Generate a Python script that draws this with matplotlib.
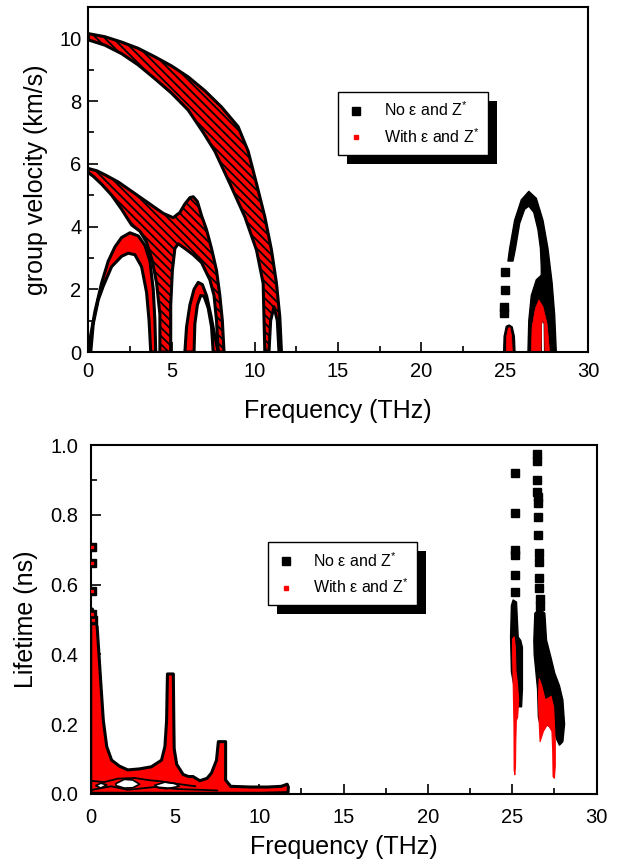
import matplotlib
matplotlib.use('Agg')
import matplotlib.pyplot as plt
from matplotlib.lines import Line2D
from matplotlib.patches import Rectangle
from matplotlib.ticker import MultipleLocator

plt.rcParams['font.family'] = ['Liberation Sans', 'DejaVu Sans']
plt.rcParams['mathtext.fontset'] = 'custom'
plt.rcParams['mathtext.rm'] = 'Liberation Sans'
plt.rcParams['hatch.linewidth'] = 1.3

# ---- group velocity (km/s) vs frequency (THz), outlines of the point clouds ----
# LA band
la_outer_f = [0, 1, 2, 3, 4, 5, 6, 7, 8, 9, 9.6, 10.1, 10.6, 11.0, 11.3, 11.5, 11.6]
la_outer_v = [10.15, 10.05, 9.88, 9.68, 9.41, 9.12, 8.77, 8.33, 7.81, 7.18, 6.40, 5.37, 4.31, 3.25, 2.19, 1.12, 0]
la_gap_f = [11.45, 11.35, 11.15, 10.95, 10.85]
la_gap_v = [0, 1.0, 1.44, 1.0, 0]
la_inner_f = [0, 1, 2, 3, 4, 5, 6, 6.9, 7.6, 8.5, 9.4, 10.1, 10.5, 10.6]
la_inner_v = [9.95, 9.78, 9.51, 9.15, 8.71, 8.25, 7.71, 7.0, 6.4, 5.37, 4.31, 3.25, 2.19, 0]

# TA2 band with the bump near 6 THz
tb_top_f = [0, 0.5, 1.0, 1.8, 2.8, 3.8, 4.5, 5.1, 5.5, 5.8, 6.1, 6.3, 6.55, 6.8, 7.1, 7.4, 7.7, 7.9, 8.05, 8.15]
tb_top_v = [5.85, 5.78, 5.65, 5.42, 5.05, 4.68, 4.42, 4.28, 4.45, 4.72, 4.92, 4.95, 4.8, 4.35, 3.9, 3.3, 2.6, 1.8, 1.0, 0]
tb_low_f = [7.8, 7.7, 7.55, 7.3, 6.8, 6.3, 5.8, 5.4, 5.2, 5.05, 4.95, 4.95, 4.3, 4.3, 4.1, 3.85, 3.5, 3.1, 2.6, 2.0, 1.4, 0.8, 0.3, 0]
tb_low_v = [0, 1.0, 1.8, 2.3, 2.85, 3.1, 3.3, 3.45, 3.3, 2.6, 1.5, 0, 0, 1.2, 2.2, 2.9, 3.5, 3.85, 4.05, 4.55, 5.0, 5.35, 5.6, 5.72]

# TA1 arch
ta_outer_f = [0, 0.1, 0.4, 0.8, 1.2, 1.6, 2.0, 2.5, 3.0, 3.4, 3.7, 3.9, 4.0, 4.05]
ta_outer_v = [0, 0.4, 1.3, 2.2, 2.9, 3.35, 3.65, 3.8, 3.7, 3.4, 2.9, 2.0, 1.0, 0]
ta_inner_f = [0.15, 0.3, 0.6, 0.9, 1.4, 2.0, 2.4, 2.8, 3.2, 3.5, 3.65, 3.75]
ta_inner_v = [0, 0.9, 1.66, 2.1, 2.72, 3.05, 3.15, 3.1, 2.72, 1.9, 1.0, 0]

# small arch 6-8 THz
d_outer_f = [5.8, 5.9, 6.1, 6.35, 6.6, 6.85, 7.1, 7.35, 7.6, 7.8]
d_outer_v = [0, 0.8, 1.5, 2.0, 2.22, 2.15, 1.8, 1.2, 0.5, 0]
d_inner_f = [6.35, 6.4, 6.55, 6.75, 6.95, 7.2, 7.4, 7.5]
d_inner_v = [0, 0.9, 1.5, 1.8, 1.78, 1.4, 0.8, 0]

# optical branches, no eps/Z*
op_f = [25.2, 25.3, 25.6, 26.0, 26.45, 26.9, 27.3, 27.6, 27.85, 28.0, 28.1,
        27.4, 27.38, 27.3, 27.2, 27.2, 26.4, 26.45, 26.6, 26.9, 27.2,
        27.2, 27.15, 27.0, 26.75, 26.45, 26.2, 25.9, 25.65, 25.5]
op_v = [2.9, 3.3, 4.2, 4.85, 5.12, 4.9, 4.2, 3.3, 2.2, 1.2, 0,
        0, 0.9, 1.02, 0.9, 0, 0, 1.0, 1.8, 2.3, 2.45,
        2.7, 3.3, 3.9, 4.45, 4.65, 4.55, 4.1, 3.3, 2.9]
op_leg_f = [25.05, 25.0, 24.98, 24.97]
op_leg_v = [2.55, 1.97, 1.45, 1.25]
op_small_f = [24.94, 24.97, 25.1, 25.27, 25.45, 25.58, 25.62]
op_small_v = [0, 0.5, 0.82, 0.86, 0.8, 0.5, 0]
# optical branches, with eps/Z*
opr_small_f = [25.1, 25.12, 25.22, 25.32, 25.42, 25.46]
opr_small_v = [0, 0.5, 0.76, 0.78, 0.5, 0]
opr_f = [26.6, 26.65, 26.85, 27.06, 27.3, 27.55, 27.7, 27.42, 27.38, 27.3, 27.22, 27.18]
opr_v = [0, 0.8, 1.4, 1.66, 1.45, 0.9, 0, 0, 0.9, 1.02, 0.9, 0]

# ---- lifetime (ns) vs frequency (THz) ----
lt_f = [0.0, 0.1, 0.25, 0.38, 0.49, 0.61, 0.75, 0.95, 1.24, 1.7, 2.2, 2.9, 3.6, 4.2, 4.4, 4.5, 4.55,
        4.9, 4.93, 4.95, 5.1, 5.48, 5.8, 6.07, 6.47, 6.9, 7.16, 7.46, 7.57, 8.0, 8.0, 8.3, 9.5,
        10.5, 11.3, 11.65, 11.72, 11.7, 10, 8, 5, 2, 0.05, 0.0]
lt_t = [0.52, 0.53, 0.5, 0.48, 0.40, 0.31, 0.21, 0.136, 0.097, 0.08, 0.069, 0.072, 0.078, 0.097, 0.136, 0.21, 0.344,
        0.344, 0.2, 0.13, 0.085, 0.056, 0.05, 0.05, 0.038, 0.045, 0.06, 0.097, 0.15, 0.15, 0.04, 0.022, 0.02,
        0.02, 0.022, 0.028, 0.02, 0.004, 0.002, 0.002, 0.002, 0.002, 0.002, 0.01]
hole1_f = [1.5, 2.0, 2.5, 2.9, 2.5, 2.0, 1.5]
hole1_t = [0.03, 0.042, 0.04, 0.028, 0.018, 0.017, 0.024]
hole2_f = [3.8, 4.4, 5.0, 5.25, 4.5, 4.0]
hole2_t = [0.025, 0.034, 0.03, 0.022, 0.015, 0.018]
hole3_f = [0.3, 0.6, 0.95, 0.6]
hole3_t = [0.024, 0.031, 0.026, 0.017]
mesh1_f = [0.0, 0.8, 1.6, 2.6, 3.4, 4.2, 5.3, 6.2]
mesh1_t = [0.038, 0.034, 0.044, 0.046, 0.04, 0.036, 0.028, 0.022]
mesh2_f = [0.1, 1.2, 2.2, 3.0, 3.8, 5.2, 6.5, 7.5]
mesh2_t = [0.012, 0.022, 0.012, 0.016, 0.02, 0.014, 0.012, 0.01]
lt_pts_f = [0.08, 0.08, 0.08, 0.1, 0.12]
lt_pts_t = [0.709, 0.663, 0.583, 0.515, 0.50]

lo1_f = [24.95, 25.05, 25.25, 25.3, 25.35, 25.5, 25.6, 25.6, 25.55, 25.35, 25.25, 25.1, 24.95, 24.9]
lo1_t = [0.54, 0.556, 0.55, 0.5, 0.45, 0.44, 0.42, 0.3, 0.25, 0.25, 0.3, 0.31, 0.35, 0.45]
lo2_f = [26.34, 26.6, 26.93, 27.03, 27.3, 27.52, 27.8, 28.0, 28.1, 28.0, 27.8, 27.6,
         27.3, 27.0, 26.7, 26.55, 26.5, 26.3, 26.28]
lo2_t = [0.518, 0.53, 0.518, 0.441, 0.39, 0.346, 0.31, 0.269, 0.2, 0.15, 0.14, 0.16,
         0.19, 0.2, 0.19, 0.22, 0.3, 0.4, 0.441]
lo1_pts_f = [25.15, 25.15, 25.15, 25.15, 25.15, 25.15]
lo1_pts_t = [0.919, 0.804, 0.699, 0.685, 0.627, 0.58]
lo2_pts_f = [26.45, 26.45, 26.47, 26.49, 26.5, 26.5, 26.52, 26.54, 26.56, 26.57, 26.58, 26.6, 26.62, 26.63]
lo2_pts_t = [0.975, 0.955, 0.9, 0.865, 0.85, 0.833, 0.795, 0.742, 0.69, 0.665, 0.62, 0.59, 0.56, 0.54]
lr1_f = [25.02, 25.12, 25.18, 25.22, 25.3, 25.38, 25.32, 25.24, 25.21, 25.19, 25.15, 25.11, 25.1, 25.06, 25.02]
lr1_t = [0.445, 0.45, 0.42, 0.35, 0.32, 0.27, 0.22, 0.21, 0.15, 0.08, 0.055, 0.07, 0.2, 0.3, 0.4]
lr2_f = [26.6, 26.75, 26.95, 27.15, 27.3, 27.45, 27.5, 27.55, 27.55, 27.5, 27.42, 27.4, 27.35, 27.1, 26.85, 26.65, 26.6, 26.55]
lr2_t = [0.33, 0.31, 0.27, 0.275, 0.28, 0.25, 0.2, 0.15, 0.08, 0.045, 0.05, 0.12, 0.18, 0.2, 0.18, 0.15, 0.2, 0.28]

labels = ['No \u03b5 and Z$^{*}$', 'With \u03b5 and Z$^{*}$']


def cloud(ax, f, v, face='red', hatch=None, lw=2.2, edge='black'):
    ax.fill(f, v, facecolor=face, edgecolor=edge, linewidth=lw, hatch=hatch,
            joinstyle='round', zorder=2)


def style(ax, ymax, ymaj, ymin, xpad, ypad):
    ax.set_xlim(0, 30)
    ax.set_ylim(0, ymax)
    ax.xaxis.set_major_locator(MultipleLocator(5))
    ax.xaxis.set_minor_locator(MultipleLocator(2.5))
    ax.yaxis.set_major_locator(MultipleLocator(ymaj))
    ax.yaxis.set_minor_locator(MultipleLocator(ymin))
    ax.tick_params(which='both', direction='in', top=False, right=False, width=1.2)
    ax.tick_params(which='major', length=7, labelsize=14.5)
    ax.tick_params(which='minor', length=4.5)
    ax.tick_params(axis='x', pad=xpad)
    ax.tick_params(axis='y', pad=ypad)
    for s in ax.spines.values():
        s.set_linewidth(1.5)


def legend_with_shadow(fig, ax, anchor):
    handles = [Line2D([], [], ls='none', marker='s', color='black', ms=5.5),
               Line2D([], [], ls='none', marker='s', color='red', ms=2.2)]
    leg = ax.legend(handles, labels, loc='upper left', bbox_to_anchor=anchor, borderaxespad=0,
                    fancybox=False, edgecolor='black', framealpha=1, fontsize=11.5,
                    handlelength=1.2, handletextpad=1.1, borderpad=0.55, labelspacing=0.5)
    leg.get_frame().set_linewidth(1.0)
    fig.canvas.draw()
    bb = leg.get_frame().get_window_extent()
    inv = fig.transFigure.inverted()
    (x0, y0), (x1, y1) = inv.transform([(bb.x0 + 9, bb.y0 - 9), (bb.x1 + 9, bb.y1 - 9)])
    ax.add_artist(Rectangle((x0, y0), x1 - x0, y1 - y0, transform=fig.transFigure,
                            facecolor='black', edgecolor='none', zorder=4.5))


fig = plt.figure(figsize=(6.23, 8.67), dpi=100)

# top panel
ax1 = fig.add_axes([0.1417, 0.594, 0.802, 0.398])
cloud(ax1, la_outer_f + la_gap_f + la_inner_f[::-1], la_outer_v + la_gap_v + la_inner_v[::-1], hatch='\\' * 4)
cloud(ax1, tb_top_f + tb_low_f, tb_top_v + tb_low_v, hatch='\\' * 4)
cloud(ax1, ta_outer_f + ta_inner_f[::-1], ta_outer_v + ta_inner_v[::-1])
cloud(ax1, d_outer_f + d_inner_f[::-1], d_outer_v + d_inner_v[::-1])
cloud(ax1, op_f, op_v, face='black', lw=1)
cloud(ax1, op_small_f, op_small_v, face='black', lw=1)
ax1.plot(op_leg_f, op_leg_v, 's', color='black', ms=5.5, zorder=2)
cloud(ax1, opr_f, opr_v, face='red', lw=0.5, edge='red')
cloud(ax1, opr_small_f, opr_small_v, face='red', lw=0.5, edge='red')
style(ax1, 11, 2, 1, 7, 5)
ax1.set_xlabel('Frequency (THz)', fontsize=18, labelpad=13)
ax1.set_ylabel('group velocity (km/s)', fontsize=18, labelpad=8)

# bottom panel
ax2 = fig.add_axes([0.1456, 0.0842, 0.812, 0.4025])
cloud(ax2, lt_f, lt_t)
cloud(ax2, hole1_f, hole1_t, face='white', lw=1.2)
cloud(ax2, hole2_f, hole2_t, face='white', lw=1.2)
cloud(ax2, hole3_f, hole3_t, face='white', lw=1.2)
ax2.plot(mesh1_f, mesh1_t, color='black', lw=1.3, zorder=2)
ax2.plot(mesh2_f, mesh2_t, color='black', lw=1.3, zorder=2)
ax2.plot(lt_pts_f, lt_pts_t, 's', color='black', ms=5.5, zorder=3)
ax2.plot(lt_pts_f, lt_pts_t, 's', color='red', ms=2, zorder=3)
cloud(ax2, lo1_f, lo1_t, face='black', lw=1)
cloud(ax2, lo2_f, lo2_t, face='black', lw=1)
ax2.plot(lo1_pts_f, lo1_pts_t, 's', color='black', ms=5.5, zorder=2)
ax2.plot(lo2_pts_f, lo2_pts_t, 's', color='black', ms=5.5, zorder=2)
cloud(ax2, lr1_f, lr1_t, face='red', lw=0.8, edge='red')
cloud(ax2, lr2_f, lr2_t, face='red', lw=0.8, edge='red')
style(ax2, 1.0, 0.2, 0.1, 10, 9)
ax2.set_xlabel('Frequency (THz)', fontsize=18, labelpad=6)
ax2.set_ylabel('Lifetime (ns)', fontsize=18, labelpad=9)

legend_with_shadow(fig, ax1, (0.50, 0.754))
legend_with_shadow(fig, ax2, (0.350, 0.722))

fig.savefig('out.png', dpi=100)
